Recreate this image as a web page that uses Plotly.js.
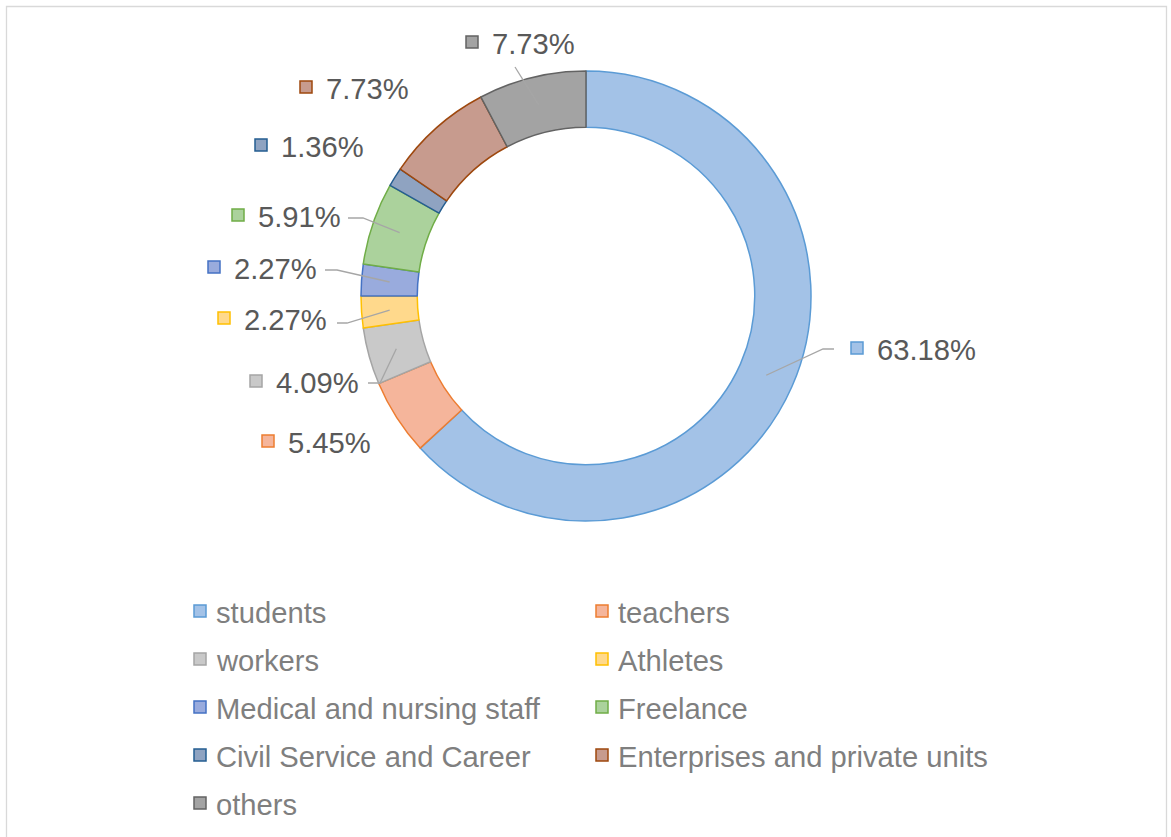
<!DOCTYPE html>
<html>
<head>
<meta charset="utf-8">
<script src="https://cdn.plot.ly/plotly-3.0.1.min.js"></script>
<style>html,body{margin:0;padding:0;background:#fff;}#chart{width:1171px;height:837px;}</style>
</head>
<body>
<div id="chart"></div>
<script>
// ---- data ----
const categories = ['students','teachers','workers','Athletes','Medical and nursing staff','Freelance','Civil Service and Career','Enterprises and private units','others'];
const shares = [63.18, 5.45, 4.09, 2.27, 2.27, 5.91, 1.36, 7.73, 7.73];
const shareLabels = ['63.18%','5.45%','4.09%','2.27%','2.27%','5.91%','1.36%','7.73%','7.73%'];

// ---- styles / layout ----
const fillColors = ['#A3C2E7','#F5B59B','#C9C9C9','#FFD98C','#99ABDD','#ABD29C','#8FA3C1','#C79B8E','#A3A3A3'];
const lineColors = ['#5B9BD5','#ED7D31','#A5A5A5','#FFC000','#4472C4','#70AD47','#255E91','#9E480E','#636363'];
const W = 1171, H = 837;
const CX = 586, CY = 296, R = 225, HOLE = 0.75;
// label marker centres (px) and leader-line label-side points
const labelPos = [[857,348],[268,441],[256,381],[224,318],[214,267],[238,215],[261,145],[306,87],[472,42]];
const leaderStart = [[834,349,823,349],null,[368,383,380,383],[337,323,347,323],[325,270,337,270],[348,218,363,218],null,null,[515,67,515,67]];
const legendCols = [194, 596];
const legendRow0 = 611, legendRowGap = 48;

const FONT = 'Liberation Sans, Arial, sans-serif';
const px = x => x / W;
const py = y => 1 - y / H;

const trace = {
  type: 'pie',
  values: shares,
  labels: categories,
  sort: false,
  direction: 'clockwise',
  rotation: 0,
  hole: HOLE,
  textinfo: 'none',
  hoverinfo: 'label+percent',
  marker: {colors: fillColors, line: {color: lineColors, width: 1.5}},
  domain: {x: [px(CX - R), px(CX + R)], y: [py(CY + R), py(CY - R)]},
  showlegend: false
};

const shapes = [];
const annotations = [];

// outer chart border
shapes.push({type:'rect', xref:'paper', yref:'paper', x0:px(6.5), x1:px(1166.5), y0:py(6.5), y1:-0.02,
  line:{color:'#D9D9D9', width:1.3}, fillcolor:'rgba(0,0,0,0)', layer:'below'});

// data labels with leader lines
const total = shares.reduce((a,b)=>a+b,0);
const rMid = R * (1 + HOLE) / 2;
let cum = 0;
shares.forEach((v, i) => {
  const th = 2 * Math.PI * (cum + v / 2) / total;
  cum += v;
  const sx = CX + rMid * Math.sin(th), sy = CY - rMid * Math.cos(th);
  const [mx, my] = labelPos[i];
  shapes.push({type:'rect', xref:'paper', yref:'paper', x0:px(mx-6), x1:px(mx+6), y0:py(my+6), y1:py(my-6),
    fillcolor: fillColors[i], line:{color: lineColors[i], width:1.5}});
  annotations.push({xref:'paper', yref:'paper', x:px(mx+18), y:py(my+2), xanchor:'left', yanchor:'middle',
    text: shareLabels[i], showarrow:false, font:{family:FONT, size:29.2, color:'#595959'}});
  const ls = leaderStart[i];
  if (ls) {
    shapes.push({type:'path', xref:'paper', yref:'paper',
      path:`M ${px(ls[0])} ${py(ls[1])} L ${px(ls[2])} ${py(ls[3])} L ${px(sx)} ${py(sy)}`,
      line:{color:'#A6A6A6', width:1.3}});
  }
});

// legend (two columns)
categories.forEach((c, i) => {
  const col = i % 2, row = Math.floor(i / 2);
  const mx = legendCols[col] + 6, my = legendRow0 + row * legendRowGap;
  shapes.push({type:'rect', xref:'paper', yref:'paper', x0:px(mx-6), x1:px(mx+6), y0:py(my+6), y1:py(my-6),
    fillcolor: fillColors[i], line:{color: lineColors[i], width:1.5}});
  annotations.push({xref:'paper', yref:'paper', x:px(mx+14), y:py(my+2), xanchor:'left', yanchor:'middle',
    text: c, showarrow:false, font:{family:FONT, size:29.2, color:'#7F7F7F'}});
});

const layout = {
  width: W, height: H,
  margin: {l:0, r:0, t:0, b:0},
  paper_bgcolor: '#FFFFFF',
  showlegend: false,
  shapes: shapes,
  annotations: annotations
};

Plotly.newPlot('chart', [trace], layout, {displayModeBar:false, staticPlot:true});
</script>
</body>
</html>
